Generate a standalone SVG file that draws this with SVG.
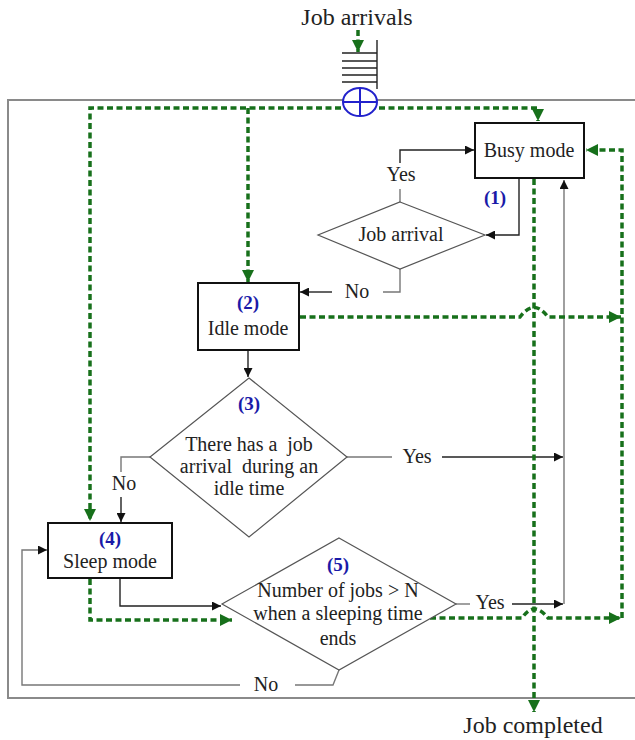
<svg xmlns="http://www.w3.org/2000/svg" width="635" height="740" viewBox="0 0 635 740">
<defs>
<style>
.txt{font-family:"Liberation Serif","Times New Roman",serif;font-size:20px;fill:#222;text-anchor:middle}
.big{font-size:24px}
.num{font-family:"Liberation Serif","Times New Roman",serif;font-size:19px;font-weight:bold;fill:#1a1aa8;text-anchor:middle}
.box{fill:#fff;stroke:#111;stroke-width:2}
.dia{fill:#fff;stroke:#555;stroke-width:1.2}
.blk{fill:none;stroke:#222;stroke-width:1.4}
.gry{fill:none;stroke:#777;stroke-width:1.4}
.grn{fill:none;stroke:#17701b;stroke-width:3.5;stroke-dasharray:6 3.5}
</style>
<marker id="ab" viewBox="0 0 10 10" refX="10" refY="5" markerWidth="13" markerHeight="9" markerUnits="userSpaceOnUse" orient="auto"><path d="M0,0 L10,5 L0,10 z" fill="#111"/></marker>
<marker id="ag" viewBox="0 0 10 10" refX="10" refY="5" markerWidth="14" markerHeight="12" markerUnits="userSpaceOnUse" orient="auto"><path d="M0,0 L10,5 L0,10 z" fill="#17701b"/></marker>
</defs>
<rect width="635" height="740" fill="#fff"/>
<rect id="frame" x="8" y="100" width="640" height="598" fill="none" stroke="#8a8a8a" stroke-width="2"/>

<g id="connectors">
<path class="blk" d="M519,178 V235 H486" marker-end="url(#ab)"/>
<path class="gry" d="M400,202 V189"/>
<path class="blk" d="M400,163 V150 H474" marker-end="url(#ab)"/>
<path class="gry" d="M400,269 V292 H383"/>
<path class="blk" d="M332,292 H300" marker-end="url(#ab)"/>
<path class="blk" d="M248,350 V377" marker-end="url(#ab)"/>
<path class="gry" d="M150,457 H121 V472"/>
<path class="blk" d="M121,497 V522" marker-end="url(#ab)"/>
<path class="gry" d="M347,457 H392"/>
<path class="blk" d="M442,457 H563" marker-end="url(#ab)"/>
<path class="blk" d="M120,578 V606 H221" marker-end="url(#ab)"/>
<path class="gry" d="M456,604 H470"/>
<path class="blk" d="M512,604 H563" marker-end="url(#ab)"/>
<path class="gry" d="M564,604 V180" marker-end="url(#ab)"/>
<path class="gry" d="M339,670 L333,685 H295"/>
<path class="gry" d="M240,685 H22 V550 H47" marker-end="url(#ab)"/>
<path class="blk" d="M377,40 V89 M342,53 H377 M342,61 H377 M342,68 H377 M342,75 H377 M342,82 H377"/>
<path class="grn" d="M358,30 V52" marker-end="url(#ag)"/>
<path class="grn" d="M360,108 H90 V521" marker-end="url(#ag)"/>
<path class="grn" d="M360,108 H538 V121" marker-end="url(#ag)"/>
<path class="grn" d="M248,108 V282" marker-end="url(#ag)"/>
<path class="grn" d="M300,317 H520 Q534,298 548,317 H621" marker-end="url(#ag)"/>
<path class="grn" d="M622,618 V150 H586" marker-end="url(#ag)"/>
<path class="grn" d="M430,618 H522 Q534,600 548,618 H621" marker-end="url(#ag)"/>
<path class="grn" d="M534,179 V712" marker-end="url(#ag)"/>
<path class="grn" d="M90,579 V620 H232" marker-end="url(#ag)"/>
</g>

<g id="merge">
<ellipse cx="360" cy="102" rx="17" ry="14" fill="#fff" stroke="#2222cc" stroke-width="2"/>
<path d="M343,102 H377 M360,88 V116" stroke="#2222cc" stroke-width="2"/>
</g>

<g id="busy">
<rect class="box" x="475" y="123" width="109" height="55"/>
<text class="txt" x="529" y="157">Busy mode</text>
</g>
<text class="num" x="495" y="204">(1)</text>

<g id="jobarrival">
<polygon class="dia" points="400,202 485,235 400,269 318,235"/>
<text class="txt" x="401" y="241">Job arrival</text>
</g>

<g id="idle">
<rect class="box" x="198" y="283" width="101" height="67"/>
<text class="num" x="248" y="309">(2)</text>
<text class="txt" x="248" y="335">Idle mode</text>
</g>

<g id="decision3">
<polygon class="dia" points="249,378 347,457 249,537 150,457"/>
<text class="num" x="249" y="410">(3)</text>
<text class="txt" x="249" y="451" xml:space="preserve">There has a  job</text>
<text class="txt" x="249" y="473" xml:space="preserve">arrival  during an</text>
<text class="txt" x="249" y="495">idle time</text>
</g>

<g id="sleep">
<rect class="box" x="48" y="523" width="124" height="55"/>
<text class="num" x="110" y="545">(4)</text>
<text class="txt" x="110" y="568">Sleep mode</text>
</g>

<g id="decision5">
<polygon class="dia" points="339,538 456,604 339,670 222,604"/>
<text class="num" x="338" y="571">(5)</text>
<text class="txt" x="338" y="597">Number of jobs &gt; N</text>
<text class="txt" x="338" y="620">when a sleeping time</text>
<text class="txt" x="338" y="645">ends</text>
</g>

<g id="labels">
<text class="txt big" x="357" y="25">Job arrivals</text>
<text class="txt" x="401" y="181">Yes</text>
<text class="txt" x="357" y="298">No</text>
<text class="txt" x="124" y="490">No</text>
<text class="txt" x="417" y="463">Yes</text>
<text class="txt" x="490" y="609">Yes</text>
<text class="txt" x="266" y="691">No</text>
<text class="txt big" x="533" y="733">Job completed</text>
</g>
</svg>
